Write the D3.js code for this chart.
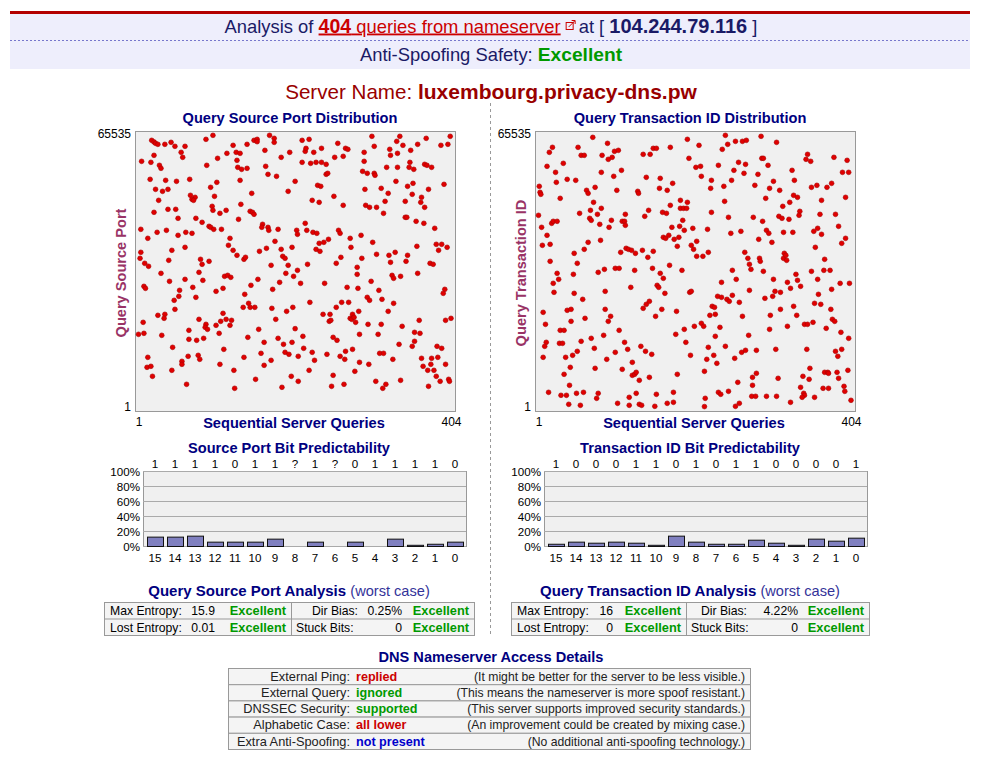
<!DOCTYPE html>
<html><head><meta charset="utf-8">
<script src="https://cdn.jsdelivr.net/npm/d3@7"></script>
<style>body{margin:0;background:#fff}</style>
</head><body>
<script>
// ---------------- DATA ----------------
const queryCount = 404;
const serverIP = "104.244.79.116";
const serverName = "luxembourg.privacy-dns.pw";
const portTicksY = [1, 65535];
const queryTicksX = [1, 404];
// [query index, source port]
const sourcePortPoints = [[18,64015],[21,63615],[23,63295],[26,63055],[35,63055],[43,63535],[48,62575],[61,62575],[56,61135],[58,59935],[21,60415],[5,58975],[17,58735],[28,58015],[30,57295],[88,64255],[97,65215],[89,58015],[103,59695],[123,62815],[115,60895],[127,61135],[132,60895],[128,59215],[141,63055],[150,64015],[154,64255],[154,63695],[170,65215],[176,64495],[176,63535],[164,61615],[196,61135],[185,59935],[129,57535],[134,57055],[141,57295],[165,57775],[168,55855],[179,55375],[16,54655],[36,54415],[50,54175],[67,54655],[23,52255],[32,51775],[39,52255],[102,53935],[94,52735],[99,50575],[132,54415],[203,54175],[194,51775],[147,51295],[68,50815],[74,50335],[70,49855],[72,49615],[27,49615],[96,48175],[97,47215],[106,46495],[114,47215],[133,48655],[130,45055],[145,46975],[148,46735],[150,46255],[21,46735],[39,47455],[49,47455],[52,45295],[75,45295],[83,44335],[92,43375],[94,43135],[98,42655],[108,42655],[4,42655],[13,40495],[25,41935],[37,42415],[52,41215],[62,41935],[70,41695],[119,40495],[117,38815],[123,37615],[128,36415],[137,35455],[139,35935],[161,43855],[160,43135],[168,43135],[169,42415],[181,42655],[205,42415],[206,41455],[177,39775],[166,38095],[157,37375],[185,37855],[199,38335],[187,36175],[190,35695],[61,38335],[44,37615],[4,37135],[3,35695],[9,34495],[14,33775],[40,35215],[81,35455],[83,34255],[92,34975],[172,34015],[194,34015],
[212,64015],[221,64255],[216,61375],[217,62095],[227,61135],[237,62095],[258,63295],[268,62095],[271,61855],[254,59935],[265,60175],[212,58735],[223,58495],[230,58735],[237,58735],[243,58255],[243,55855],[245,56095],[292,61135],[292,58975],[302,64975],[305,62575],[290,56575],[296,56095],[305,56095],[306,55615],[325,61855],[326,60415],[335,60895],[334,63775],[338,64975],[342,62815],[352,61615],[321,57535],[335,57535],[350,57535],[351,58735],[356,57055],[361,63055],[372,64495],[391,62815],[400,63055],[403,64975],[370,58255],[373,58015],[379,57535],[232,53215],[236,52975],[333,54175],[293,52255],[314,52495],[323,51295],[348,52975],[355,53695],[354,51055],[375,52255],[395,53455],[225,49615],[234,49135],[253,50575],[265,48415],[294,48415],[299,47935],[308,47935],[317,46495],[319,49375],[345,49375],[366,50335],[365,49135],[370,47935],[345,45535],[347,45535],[359,44575],[369,44095],[383,42895],[216,44095],[218,42415],[226,41935],[231,41695],[259,42415],[261,41695],[274,40495],[288,41215],[234,39295],[240,39535],[246,40255],[230,37855],[235,37375],[275,38335],[303,39535],[262,35935],[256,34495],[283,33535],[289,35695],[308,36655],[324,36415],[332,37135],[326,34735],[348,36415],[346,34975],[360,38575],[385,39055],[392,39055],[399,38335],[388,37615],[377,34495],[381,34255],[219,34255],
[30,32088],[41,30168],[61,30648],[79,32328],[84,30408],[8,28968],[10,28488],[54,28008],[53,26568],[47,25608],[48,23448],[71,28728],[75,26328],[26,22008],[35,22248],[34,21288],[7,20328],[1,17448],[8,17688],[31,17208],[79,21048],[66,18408],[66,16248],[76,16008],[85,16488],[88,19848],[87,19128],[90,18648],[101,27768],[110,28488],[112,31368],[116,31608],[120,31128],[110,22488],[107,20568],[114,21048],[121,20808],[119,19608],[101,19608],[105,17688],[138,27048],[146,29208],[155,30648],[136,23928],[143,24888],[145,23928],[151,23928],[174,28248],[183,29928],[191,32088],[201,31368],[206,32808],[173,23688],[178,21048],[192,22968],[200,23928],[156,18648],[142,16728],[163,15528],[181,16488],[188,15048],[199,15528],[203,18808],[45,14328],[13,11928],[12,9528],[17,9768],[19,7368],[57,10968],[57,10248],[65,12168],[78,12408],[80,11448],[44,8808],[63,5448],[111,13848],[106,10248],[124,8808],[125,4488],[137,11928],[159,12888],[163,10008],[172,11208],[190,13128],[195,12648],[207,12168],[152,6648],[186,4728],[198,7368],[207,6168],
[210,29688],[241,29688],[222,25128],[283,31848],[270,28728],[284,28488],[301,30168],[311,28008],[328,31608],[330,30888],[339,31368],[361,32088],[296,26328],[299,25608],[315,25848],[330,24888],[323,22968],[256,23928],[263,25128],[272,25128],[285,22968],[239,22248],[248,22248],[247,20568],[249,20808],[277,22248],[274,21288],[276,21048],[279,21528],[281,20328],[297,19848],[314,19848],[310,17448],[286,17448],[341,19368],[363,20808],[396,28248],[394,27288],[397,20808],[404,21288],[357,17928],[364,17688],[357,15768],[354,14568],[337,15048],[213,16968],[252,16728],[257,16008],[214,14088],[225,13128],[228,11208],[244,12648],[268,13368],[277,13848],[261,12168],[267,11448],[312,12888],[317,12888],[329,11448],[286,10728],[298,10248],[386,14568],[392,14088],[366,11688],[379,11688],[387,11928],[397,10248],[368,9768],[378,10248],[374,8808],[382,8808],[385,7368],[390,6168],[401,6648],[402,6168],[221,8808],[252,7608],[280,8568],[250,4968],[266,5448],[307,6168],[320,5448],[316,4488],[339,6408],[375,4968]];
// [query index, transaction id]
const transactionIdPoints = [[71,64735],[90,63295],[52,62335],[56,60415],[60,60415],[19,62335],[15,61135],[33,58495],[12,57775],[23,56335],[24,53935],[38,54655],[49,54415],[2,52975],[3,51535],[4,51055],[29,50095],[63,52015],[65,51295],[74,52735],[91,59455],[96,59935],[99,61375],[104,61615],[83,60415],[82,56335],[98,55375],[108,56815],[102,52015],[136,60655],[145,60655],[149,62095],[153,62095],[171,62335],[193,64255],[195,59695],[204,57535],[140,55135],[158,54895],[157,52495],[167,52015],[174,53695],[129,51775],[130,51295],[72,49135],[82,47695],[68,47215],[54,46495],[77,46255],[1,46015],[5,43135],[18,44095],[20,44575],[25,44575],[12,41215],[6,38815],[16,39055],[67,45295],[69,44815],[80,43855],[95,44815],[92,43135],[113,46255],[109,44575],[112,44575],[113,43615],[143,47215],[138,45775],[184,49615],[193,49135],[171,48415],[184,47695],[188,47695],[192,47695],[161,46735],[166,46495],[187,44815],[173,43135],[183,43375],[189,42415],[200,42895],[162,40735],[165,40495],[169,41215],[176,40255],[182,40735],[180,38575],[198,38815],[201,37855],[205,39775],[205,36175],[65,39535],[81,40015],[60,37855],[47,36895],[16,34975],[51,34495],[114,38095],[117,37855],[121,37615],[126,36895],[135,37615],[142,35935],[149,37375],[107,37135],[170,34015],
[242,65215],[288,64975],[245,63055],[238,61855],[255,63775],[264,63775],[269,64015],[308,63535],[208,62815],[210,57775],[211,55375],[233,58015],[259,58735],[268,58255],[253,56815],[266,56095],[284,55855],[289,59695],[291,59695],[297,58015],[224,54415],[223,52495],[250,54415],[240,52975],[241,49375],[280,53215],[299,52495],[304,54175],[312,52015],[328,56815],[331,54415],[294,50095],[316,48175],[325,49135],[330,50815],[335,50335],[348,60655],[346,59455],[352,58975],[382,59935],[399,59215],[393,56335],[401,56335],[353,52735],[360,53215],[373,52735],[379,53695],[366,49615],[397,50335],[224,46735],[246,45535],[278,45535],[290,44575],[311,45775],[315,45295],[324,45055],[338,46975],[337,46015],[219,42655],[249,41695],[262,42175],[285,40255],[295,42415],[298,41695],[302,39535],[317,41935],[329,41935],[364,46255],[384,46255],[388,43375],[356,42175],[361,42895],[366,41455],[397,40495],[392,39295],[358,38335],[213,36175],[220,37135],[267,37135],[271,35695],[273,34255],[286,35695],[287,34975],[318,36895],[317,35695],[321,35215],[320,36415],[370,35455],
[25,32088],[46,31848],[27,30648],[20,29688],[21,27528],[78,32328],[86,33048],[100,33288],[105,33288],[125,32808],[148,33288],[158,32088],[162,30888],[186,32808],[47,27288],[58,25848],[87,27768],[120,28728],[154,29208],[156,28728],[164,27288],[196,27528],[198,27768],[7,22728],[10,19848],[38,23208],[43,23448],[43,20568],[61,21288],[87,23448],[94,21768],[91,20568],[136,23688],[140,24648],[144,25368],[160,23448],[152,21768],[179,22968],[29,18408],[34,18408],[28,15288],[32,15288],[11,15528],[9,14568],[7,11928],[56,15768],[69,16488],[85,17208],[73,14088],[51,13368],[45,12408],[36,11928],[105,18408],[112,15528],[116,13848],[100,13128],[89,11448],[133,14568],[139,13368],[147,12648],[178,17448],[189,18648],[202,19368],[191,15528],[197,12408],[42,9528],[34,7848],[74,9288],[109,9048],[122,10728],[122,7608],[125,7848],[127,8328],[131,6408],[144,7128],[180,7848],[41,5208],[14,3528],[30,2808],[37,2808],[50,3288],[59,3528],[78,3288],[76,2088],[40,648],[55,408],[103,888],[118,2328],[118,408],[127,3288],[131,648],[134,408],[151,168],[153,3048],[167,888],[175,1128],[175,3528],
[251,32808],[275,33048],[291,32568],[237,29928],[256,30648],[304,30648],[322,29928],[333,31848],[335,30408],[353,32568],[369,32808],[377,32808],[361,30648],[390,29688],[402,29688],[379,28248],[273,28008],[306,27768],[313,27528],[303,26568],[293,26088],[326,28488],[339,28968],[232,26568],[237,26328],[244,25848],[247,25368],[251,26808],[260,25128],[225,24168],[228,23928],[222,22008],[229,22248],[362,27048],[357,24888],[365,24648],[378,23448],[313,23448],[330,24168],[334,22008],[300,22008],[264,21768],[211,20088],[214,19368],[235,19128],[229,16968],[299,18648],[322,19368],[344,19848],[348,19848],[355,20328],[372,18888],[380,21048],[383,20568],[391,17928],[401,16488],[272,17208],[242,14568],[220,14328],[227,12408],[218,11448],[231,10488],[254,11688],[263,13128],[268,13608],[282,13608],[307,13848],[347,13848],[384,13368],[392,13848],[387,12168],[215,8568],[258,5928],[246,3768],[233,3528],[236,3048],[216,2088],[215,100],[255,168],[260,888],[277,7128],[282,8088],[277,5208],[276,2568],[281,2568],[295,2568],[308,2568],[310,6888],[342,7368],[351,9288],[350,6648],[339,4728],[326,1128],[343,3288],[344,2808],[341,2328],[357,2328],[370,8328],[374,8328],[375,8088],[386,8328],[388,6888],[400,8808],[395,4968],[396,3768],[368,4488],[375,4488],[404,1608]];

const bitLabels = ["15","14","13","12","11","10","9","8","7","6","5","4","3","2","1","0"];
const portBitValues = ["1","1","1","1","0","1","1","?","1","?","0","1","1","1","1","0"];
const portBitPredict = [12.5,12.5,13.8,5.8,5.8,5.8,9.8,0,5.8,0,5.8,0,9.8,1.6,3,5.8];
const txidBitValues = ["1","0","0","0","1","1","0","1","0","1","1","0","0","0","0","1"];
const txidBitPredict = [3,5.8,4.4,5.8,4.4,1.6,13.8,5.8,3,3,8.4,4.4,1.6,9.8,7.1,11.1];
const pctTicks = [0,20,40,60,80,100];

const portAnalysis = {maxEntropy:"15.9", dirBias:"0.25%", lostEntropy:"0.01", stuckBits:"0"};
const txidAnalysis = {maxEntropy:"16", dirBias:"4.22%", lostEntropy:"0", stuckBits:"0"};

const accessLabels = ["External Ping:","External Query:","DNSSEC Security:","Alphabetic Case:","Extra Anti-Spoofing:"];
const accessValues = ["replied","ignored","supported","all lower","not present"];
const accessColors = ["#cc0000","#009900","#009900","#cc0000","#0000cc"];
const accessNotes = ["(It might be better for the server to be less visible.)","(This means the nameserver is more spoof resistant.)","(This server supports improved security standards.)","(An improvement could be created by mixing case.)","(No additional anti-spoofing technology.)"];

// ---------------- DRAW ----------------
const FONT = "'Liberation Sans', Arial, sans-serif";
const NAVY = "#000080";
const GREEN = "#009900";
const HEAD = "#1a1a66";
const TITLE = 14.6;
const CX = 491;
const svg = d3.select("body").append("svg").attr("width",984).attr("height",762)
  .style("font-family",FONT);

// header
svg.append("rect").attr("x",10).attr("y",13).attr("width",960).attr("height",56).attr("fill","#eeeefc");
svg.append("rect").attr("x",10).attr("y",11).attr("width",960).attr("height",3).attr("fill","#b30000");
svg.append("line").attr("x1",10).attr("x2",970).attr("y1",40.5).attr("y2",40.5)
  .attr("stroke","#7777cc").attr("stroke-dasharray","2,2");

// line 1: measured so the whole line is centred
const hg = svg.append("g");
const tA = hg.append("text").attr("x",0).attr("y",32.5).attr("font-size",18.4).attr("fill",HEAD);
tA.append("tspan").text("Analysis of ");
const lk = tA.append("tspan").attr("fill","#cc0000").attr("text-decoration","underline");
lk.append("tspan").attr("font-weight","bold").attr("font-size",19.5).text(String(queryCount));
lk.append("tspan").text(" queries from nameserver");
const wA = tA.node().getComputedTextLength();
const ix = wA + 5;
hg.append("rect").attr("x",ix+0.5).attr("y",22.5).attr("width",7).attr("height",7).attr("fill","none").attr("stroke","#cc0000");
hg.append("path").attr("d",`M${ix+3},27 L${ix+9},21 M${ix+6},20.5 L${ix+9.5},20.5 L${ix+9.5},24`).attr("stroke","#cc0000").attr("fill","none");
const tB = hg.append("text").attr("x",ix+13).attr("y",32.5).attr("font-size",18.4).attr("fill",HEAD);
tB.append("tspan").text(" at [ ");
tB.append("tspan").attr("font-weight","bold").attr("font-size",20).text(serverIP);
tB.append("tspan").text(" ]");
const total = ix + 13 + tB.node().getComputedTextLength();
hg.attr("transform",`translate(${CX - total/2},0)`);

const h2 = svg.append("text").attr("x",CX).attr("y",60.5).attr("text-anchor","middle").attr("font-size",18.4).attr("fill",HEAD);
h2.append("tspan").text("Anti-Spoofing Safety: ");
h2.append("tspan").attr("font-weight","bold").attr("font-size",19.2).attr("fill",GREEN).text("Excellent");

const sn = svg.append("text").attr("x",CX).attr("y",99).attr("text-anchor","middle").attr("font-size",20.6).attr("fill","#990000");
sn.append("tspan").text("Server Name: ");
sn.append("tspan").attr("font-weight","bold").attr("font-size",21).text(serverName);

// separator
svg.append("line").attr("x1",490.5).attr("x2",490.5).attr("y1",103).attr("y2",636)
  .attr("stroke","#999").attr("stroke-dasharray","3,3");

function scatter(x0, title, ylabel, pts){
  const g = svg.append("g");
  const top = 131, bot = 411, w = 320;
  g.append("text").attr("x",x0+155).attr("y",123).attr("text-anchor","middle")
    .attr("font-size",TITLE).attr("font-weight","bold").attr("fill",NAVY).text(title);
  g.append("rect").attr("x",x0+0.5).attr("y",top+0.5).attr("width",w).attr("height",bot-top)
    .attr("fill","#f0f0f0").attr("stroke","#999");
  const x = d3.scaleLinear().domain([1,404]).range([x0+3.5, x0+316]);
  const y = d3.scaleLinear().domain([1,65535]).range([407,134]);
  const ya = g.append("g").attr("transform",`translate(${x0-1},0)`)
    .call(d3.axisLeft(y).tickValues(portTicksY).tickSize(0).tickPadding(3).tickFormat(d3.format("d")));
  ya.select(".domain").remove();
  ya.selectAll("text").attr("font-size",12).attr("font-family",FONT).attr("fill","#000");
  const xa = g.append("g").attr("transform",`translate(0,${bot})`)
    .call(d3.axisBottom(x).tickValues(queryTicksX).tickSize(0).tickPadding(6).tickFormat(d3.format("d")));
  xa.select(".domain").remove();
  xa.selectAll("text").attr("font-size",12).attr("font-family",FONT).attr("fill","#000");
  g.append("text").attr("x",x0+159).attr("y",428).attr("text-anchor","middle")
    .attr("font-size",TITLE).attr("font-weight","bold").attr("fill",NAVY).text("Sequential Server Queries");
  g.append("text").attr("transform",`translate(${x0-9},273) rotate(-90)`).attr("text-anchor","middle")
    .attr("font-size",TITLE).attr("font-weight","bold").attr("fill","#993366").text(ylabel);
  g.selectAll("circle.pt").data(pts).join("circle").attr("class","pt")
    .attr("cx",d=>x(d[0])).attr("cy",d=>y(d[1])).attr("r",2.4)
    .attr("fill","#e00000").attr("stroke","#aa0000").attr("stroke-width",0.6);
}
scatter(135, "Query Source Port Distribution", "Query Source Port", sourcePortPoints);
scatter(535, "Query Transaction ID Distribution", "Query Transaction ID", transactionIdPoints);

function bars(x0, title, bitVals, preds){
  const g = svg.append("g");
  const top = 471.5, bot = 546.5, w = 323;
  g.append("text").attr("x",x0+146).attr("y",453).attr("text-anchor","middle")
    .attr("font-size",TITLE).attr("font-weight","bold").attr("fill",NAVY).text(title);
  g.append("rect").attr("x",x0+0.5).attr("y",top).attr("width",w).attr("height",bot-top)
    .attr("fill","#f0f0f0").attr("stroke","#999");
  const y = d3.scaleLinear().domain([0,100]).range([bot,top]);
  const x = d3.scaleBand().domain(bitLabels).range([x0+2,x0+322]).paddingInner(0.2).paddingOuter(0.1);
  g.selectAll("line.grid").data(pctTicks).join("line").attr("class","grid")
    .attr("x1",x0).attr("x2",x0+w).attr("y1",d=>y(d)).attr("y2",d=>y(d)).attr("stroke","#aaa");
  const ya = g.append("g").attr("transform",`translate(${x0},0)`)
    .call(d3.axisLeft(y).tickValues(pctTicks).tickSize(0).tickPadding(3).tickFormat(d=>d+"%"));
  ya.select(".domain").remove();
  ya.selectAll("text").attr("font-size",11.6).attr("font-family",FONT).attr("fill","#000");
  g.selectAll("rect.bar").data(preds).join("rect").attr("class","bar")
    .attr("x",(d,i)=>x(bitLabels[i])+0.5).attr("width",x.bandwidth())
    .attr("y",d=>y(d)).attr("height",d=>bot-y(d))
    .attr("fill","#8080c0").attr("stroke","#111").attr("stroke-width",1)
    .attr("display",d=>d>0?null:"none");
  g.selectAll("text.top").data(bitVals).join("text").attr("class","top")
    .attr("x",(d,i)=>x(bitLabels[i])+x.bandwidth()/2).attr("y",467.5).attr("text-anchor","middle")
    .attr("font-size",11.6).text(d=>d);
  g.selectAll("text.bot").data(bitLabels).join("text").attr("class","bot")
    .attr("x",d=>x(d)+x.bandwidth()/2).attr("y",562).attr("text-anchor","middle")
    .attr("font-size",11.6).text(d=>d);
}
bars(143, "Source Port Bit Predictability", portBitValues, portBitPredict);
bars(544, "Transaction ID Bit Predictability", txidBitValues, txidBitPredict);

function analysis(cx, title, a, L){
  const t = svg.append("text").attr("x",cx).attr("y",596).attr("text-anchor","middle").attr("font-size",15);
  t.append("tspan").attr("font-weight","bold").attr("fill",NAVY).text(title+" ");
  t.append("tspan").attr("fill","#333399").attr("font-size",14.6).text("(worst case)");
  const g = svg.append("g").attr("font-size",12.2);
  g.append("rect").attr("x",L.x0+0.5).attr("y",602.5).attr("width",L.x1-L.x0).attr("height",33).attr("fill","#f4f4f4").attr("stroke","#999");
  g.append("line").attr("x1",L.x0).attr("x2",L.x1).attr("y1",619).attr("y2",619).attr("stroke","#999");
  g.append("line").attr("x1",L.xm+0.5).attr("x2",L.xm+0.5).attr("y1",602).attr("y2",636).attr("stroke","#999");
  const rows = [[615,"Max Entropy:",a.maxEntropy,"Dir Bias:",a.dirBias],[631.5,"Lost Entropy:",a.lostEntropy,"Stuck Bits:",a.stuckBits]];
  rows.forEach((r,i)=>{
    g.append("text").attr("x",L.x0+6).attr("y",r[0]).text(r[1]);
    g.append("text").attr("x",L.v1).attr("y",r[0]).attr("text-anchor","end").text(r[2]);
    g.append("text").attr("x",L.xm-5).attr("y",r[0]).attr("text-anchor","end").attr("font-weight","bold").attr("font-size",12.8).attr("fill",GREEN).text("Excellent");
    if(i===0) g.append("text").attr("x",L.l2end).attr("y",r[0]).attr("text-anchor","end").text(r[3]);
    else g.append("text").attr("x",L.xm+5).attr("y",r[0]).text(r[3]);
    g.append("text").attr("x",L.v2).attr("y",r[0]).attr("text-anchor","end").text(r[4]);
    g.append("text").attr("x",L.x1-5).attr("y",r[0]).attr("text-anchor","end").attr("font-weight","bold").attr("font-size",12.8).attr("fill",GREEN).text("Excellent");
  });
}
analysis(289, "Query Source Port Analysis", portAnalysis, {x0:104,x1:474,xm:291,v1:215,l2end:358,v2:402});
analysis(690, "Query Transaction ID Analysis", txidAnalysis, {x0:511,x1:869,xm:686,v1:613,l2end:747,v2:798});

// access details
svg.append("text").attr("x",CX).attr("y",662).attr("text-anchor","middle").attr("font-size",TITLE)
  .attr("font-weight","bold").attr("fill",NAVY).text("DNS Nameserver Access Details");
const tg = svg.append("g").attr("font-size",12.2);
const rowH = 16.2, tTop = 668.5;
tg.selectAll("rect.row").data(accessLabels).join("rect").attr("class","row")
  .attr("x",228.5).attr("y",(d,i)=>tTop+i*rowH).attr("width",522).attr("height",rowH)
  .attr("fill","#f4f4f4").attr("stroke","#999");
tg.selectAll("text.lab").data(accessLabels).join("text").attr("class","lab")
  .attr("x",350).attr("y",(d,i)=>tTop+i*rowH+12.3).attr("text-anchor","end").attr("font-size",12.8).attr("fill","#222").text(d=>d);
tg.selectAll("text.val").data(accessValues).join("text").attr("class","val")
  .attr("x",356).attr("y",(d,i)=>tTop+i*rowH+12.3).attr("font-weight","bold").attr("font-size",12.6).attr("fill",(d,i)=>accessColors[i]).text(d=>d);
tg.selectAll("text.note").data(accessNotes).join("text").attr("class","note")
  .attr("x",745).attr("y",(d,i)=>tTop+i*rowH+12.3).attr("text-anchor","end").attr("fill","#222").text(d=>d);
</script>
</body></html>
